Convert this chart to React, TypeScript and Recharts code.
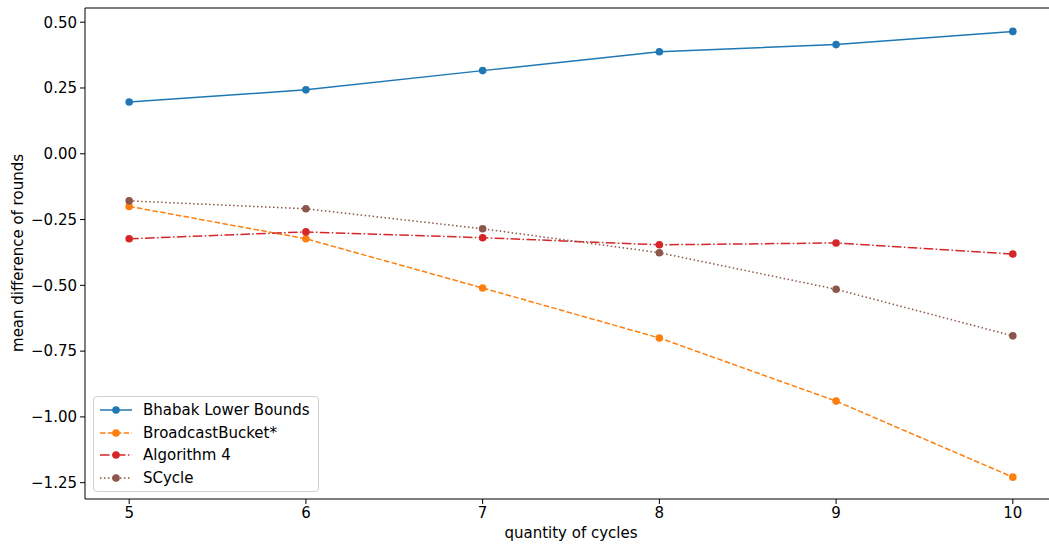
import React from 'react';
import {
  LineChart,
  Line,
  XAxis,
  YAxis,
  ReferenceLine,
} from 'recharts';

// values
const cycles = [5, 6, 7, 8, 9, 10];
const bhabak = [0.197, 0.243, 0.316, 0.388, 0.415, 0.465];
const broadcastBucket = [-0.2, -0.323, -0.51, -0.7, -0.94, -1.229];
const algorithm4 = [-0.323, -0.297, -0.319, -0.346, -0.339, -0.381];
const scycle = [-0.179, -0.209, -0.285, -0.376, -0.515, -0.692];

const xTicks = [5, 6, 7, 8, 9, 10];
const yTicks = [0.5, 0.25, 0, -0.25, -0.5, -0.75, -1, -1.25];

const X_DOMAIN: [number, number] = [4.75, 10.25];
const Y_DOMAIN: [number, number] = [-1.312, 0.554];

const FONT = 'DejaVu Sans, sans-serif';

const series = [
  { key: 'bhabak', name: 'Bhabak Lower Bounds', color: '#1f77b4', dash: undefined as string | undefined },
  { key: 'broadcast', name: 'BroadcastBucket*', color: '#ff7f0e', dash: '5.5 2.4' },
  { key: 'alg4', name: 'Algorithm 4', color: '#d62728', dash: '9.6 2.4 1.5 2.4' },
  { key: 'scycle', name: 'SCycle', color: '#8c564b', dash: '1.5 2.5' },
];

const data = cycles.map((c, i) => ({
  cycles: c,
  bhabak: bhabak[i],
  broadcast: broadcastBucket[i],
  alg4: algorithm4[i],
  scycle: scycle[i],
}));

const fmt = (v: number) => {
  const s = v.toFixed(2);
  return v < 0 ? '\u2212' + s.slice(1) : s;
};

export default function App() {
  return (
    <div style={{ position: 'absolute', left: 0, top: 0, width: 1049, height: 546, overflow: 'hidden', background: '#fff' }}>
      <LineChart width={1060} height={546} data={data} margin={{ top: 8, right: 3, bottom: 0, left: 0 }}>
        <XAxis
          dataKey="cycles"
          type="number"
          domain={X_DOMAIN}
          ticks={xTicks}
          allowDataOverflow
          height={47}
          tickSize={5}
          tickMargin={3}
          stroke="#000"
          tick={{ fill: '#000', fontSize: 15, fontFamily: FONT }}
        />
        <YAxis
          type="number"
          domain={Y_DOMAIN}
          ticks={yTicks}
          allowDataOverflow
          width={85}
          tickSize={5}
          tickMargin={3}
          tickFormatter={fmt}
          stroke="#000"
          tick={{ fill: '#000', fontSize: 15, fontFamily: FONT }}
        />
        {/* top spine (the right one falls outside the window) */}
        <ReferenceLine y={Y_DOMAIN[1]} stroke="#000" strokeWidth={1} ifOverflow="extendDomain" />
        {series.map(s => (
          <Line
            key={s.key}
            dataKey={s.key}
            name={s.name}
            stroke={s.color}
            strokeWidth={1.5}
            strokeDasharray={s.dash}
            dot={{ r: 3.8, fill: s.color, stroke: s.color, strokeWidth: 0, strokeDasharray: '' }}
            activeDot={false}
            isAnimationActive={false}
          />
        ))}
      </LineChart>

      {/* legend */}
      <div
        style={{
          position: 'absolute',
          left: 93,
          top: 396,
          background: 'rgba(255,255,255,0.8)',
          border: '1px solid #d0d0d0',
          borderRadius: 4,
          padding: '2px 8px 2px 4px',
          fontFamily: FONT,
          fontSize: 15,
          color: '#000',
          whiteSpace: 'nowrap',
        }}
      >
        {series.map(s => (
          <div key={`legend-${s.key}`} style={{ display: 'flex', alignItems: 'center', height: 22.5 }}>
            <svg width={36} height={12} style={{ marginRight: 9 }}>
              <line x1={2} y1={6} x2={34} y2={6} stroke={s.color} strokeWidth={1.5} strokeDasharray={s.dash} />
              <circle cx={18} cy={6} r={3.8} fill={s.color} />
            </svg>
            <span>{s.name}</span>
          </div>
        ))}
      </div>

      <div
        style={{
          position: 'absolute',
          left: 0,
          top: 524,
          width: 1142,
          textAlign: 'center',
          fontFamily: FONT,
          fontSize: 15,
          color: '#000',
        }}
      >
        quantity of cycles
      </div>
      <div
        style={{
          position: 'absolute',
          left: 18,
          top: 253,
          transform: 'translate(-50%, -50%) rotate(-90deg)',
          whiteSpace: 'nowrap',
          fontFamily: FONT,
          fontSize: 15,
          color: '#000',
        }}
      >
        mean difference of rounds
      </div>
    </div>
  );
}
